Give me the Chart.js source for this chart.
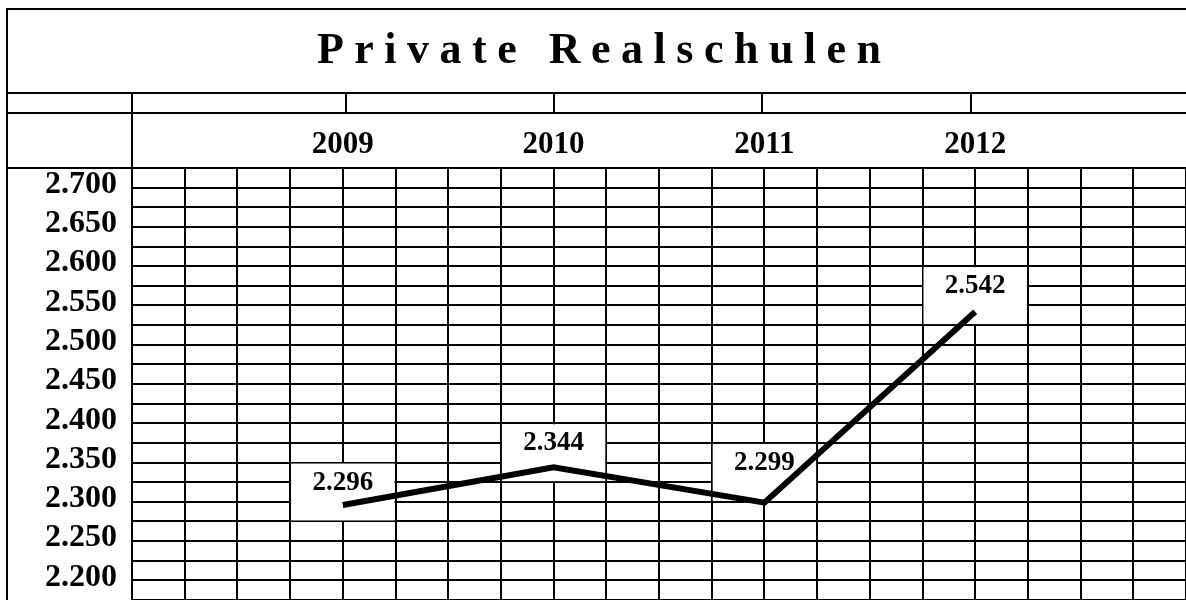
<!DOCTYPE html>
<html>
<head>
<meta charset="utf-8">
<script src="https://cdn.jsdelivr.net/npm/chart.js@4.4.1/dist/chart.umd.min.js"></script>
<style>
  html, body { margin: 0; padding: 0; background: #fff; }
  #wrap { width: 1186px; height: 600px; }
</style>
</head>
<body>
<div id="wrap"><canvas id="myChart"></canvas></div>
<script>
const titleText = 'Private Realschulen';
const years = [2009, 2010, 2011, 2012];
const schueler = [2296, 2344, 2299, 2542];

const serif = "'Liberation Serif', 'Times New Roman', serif";

// 2700 -> "2.700"
const fmt = n => String(n).replace(/\B(?=(\d{3})+(?!\d))/g, '.');

// the sheet around the plot: border, title row, empty row, header row
const tableFrame = {
  id: 'tableFrame',
  afterDraw(chart) {
    const ctx = chart.ctx;
    const W = chart.width, H = chart.height;
    const top = chart.chartArea.top;
    ctx.save();
    ctx.strokeStyle = '#000';
    ctx.lineWidth = 2;
    ctx.beginPath();
    ctx.moveTo(7, H); ctx.lineTo(7, 9); ctx.lineTo(W, 9);
    ctx.moveTo(7, 93); ctx.lineTo(W, 93);
    ctx.moveTo(7, 113); ctx.lineTo(W, 113);
    ctx.moveTo(7, top); ctx.lineTo(W, top);
    [132, 346, 554, 762, 971].forEach(x => { ctx.moveTo(x, 93); ctx.lineTo(x, 113); });
    ctx.moveTo(132, 113); ctx.lineTo(132, top);
    ctx.stroke();

    // spaced-out title, letter by letter
    ctx.fillStyle = '#000';
    ctx.font = 'bold 44px ' + serif;
    ctx.textBaseline = 'alphabetic';
    ctx.textAlign = 'left';
    const gap = 10.5;
    let w = 0;
    for (const ch of titleText) w += ctx.measureText(ch).width + gap;
    let x = 599 - (w - gap) / 2;
    for (const ch of titleText) {
      ctx.fillText(ch, x, 63);
      x += ctx.measureText(ch).width + gap;
    }
    ctx.restore();
  }
};

// value labels on white cells
const valueLabels = {
  id: 'valueLabels',
  boxes(chart) {
    const xS = chart.scales.x, yS = chart.scales.y;
    return schueler.map((v, i) => {
      const topVal = Math.round((v + 65) / 25) * 25;
      return {
        x0: xS.getPixelForValue(years[i] - 0.25),
        x1: xS.getPixelForValue(years[i] + 0.25),
        y0: yS.getPixelForValue(topVal),
        y1: yS.getPixelForValue(topVal - 75),
        cx: xS.getPixelForValue(years[i]),
        text: fmt(v)
      };
    });
  },
  beforeDatasetsDraw(chart) {
    const ctx = chart.ctx;
    ctx.save();
    ctx.fillStyle = '#fff';
    this.boxes(chart).forEach(b => {
      ctx.fillRect(b.x0 + 1, b.y0 + 1, b.x1 - b.x0 - 2, b.y1 - b.y0 - 2);
    });
    ctx.restore();
  },
  afterDatasetsDraw(chart) {
    const ctx = chart.ctx;
    ctx.save();
    ctx.fillStyle = '#000';
    ctx.font = 'bold 27px ' + serif;
    ctx.textAlign = 'center';
    ctx.textBaseline = 'middle';
    this.boxes(chart).forEach(b => {
      ctx.fillText(b.text, b.cx, b.y0 + 20);
    });
    ctx.restore();
  }
};

const ctx = document.getElementById('myChart');

new Chart(ctx, {
  type: 'line',
  data: {
    datasets: [{
      label: titleText,
      data: years.map((y, i) => ({ x: y, y: schueler[i] })),
      borderColor: '#000',
      borderWidth: 6,
      borderJoinStyle: 'miter',
      pointRadius: 0,
      tension: 0,
      fill: false
    }]
  },
  options: {
    responsive: true,
    maintainAspectRatio: false,
    animation: false,
    layout: { padding: { top: 112, left: 0, right: 0, bottom: 0 } },
    plugins: {
      legend: { display: false },
      title: { display: false },
      tooltip: { enabled: false }
    },
    scales: {
      x: {
        type: 'linear',
        position: 'top',
        min: 2008,
        max: 2013,
        afterFit(scale) {
          scale.height = 56;
          scale.paddingLeft = 0;
          scale.paddingRight = 0;
        },
        grid: { color: '#000', lineWidth: 2, drawTicks: false },
        border: { color: '#000', width: 2 },
        ticks: {
          stepSize: 0.25,
          autoSkip: false,
          maxRotation: 0,
          padding: 4,
          color: '#000',
          font: { family: serif, size: 31, weight: 'bold' },
          callback: v => (Number.isInteger(v) && v > 2008 && v < 2013) ? String(v) : ''
        }
      },
      y: {
        min: 2175,
        max: 2725,
        afterFit(scale) {
          scale.width = 132;
          scale.paddingTop = 0;
          scale.paddingBottom = 0;
        },
        grid: { color: '#000', lineWidth: 2, drawTicks: false },
        border: { color: '#000', width: 2 },
        ticks: {
          stepSize: 25,
          autoSkip: false,
          padding: 15,
          labelOffset: -3,
          color: '#000',
          font: { family: serif, size: 32, weight: 'bold' },
          callback: v => (v % 50 === 0) ? fmt(v) : ''
        }
      }
    }
  },
  plugins: [valueLabels, tableFrame]
});
</script>
</body>
</html>
